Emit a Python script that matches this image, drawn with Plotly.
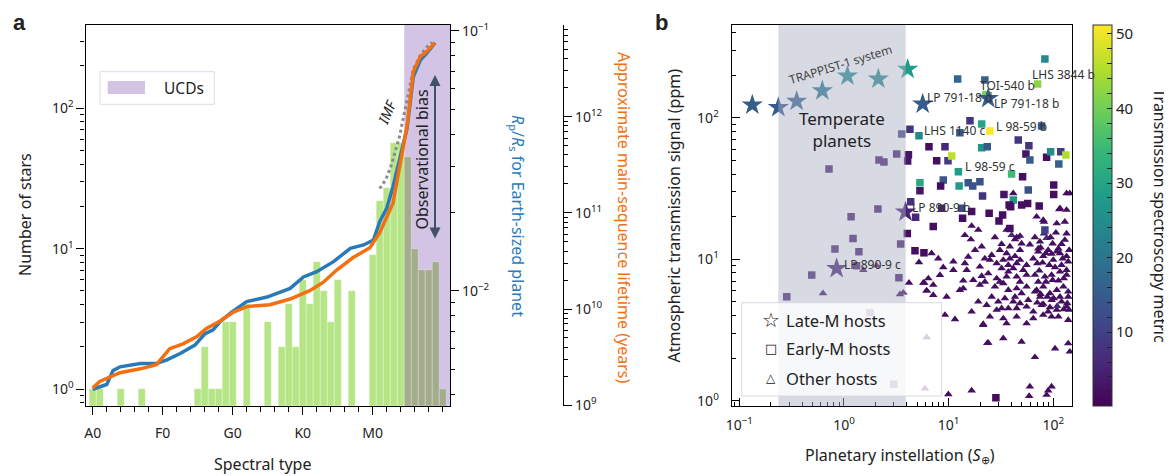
import plotly.graph_objects as go

# The page is drawn with an 8 px body margin, so the paper starts at (8, 8) on screen.
OFF = 8
W, H = 1164, 468
def fx(px): return (px - OFF) / W
def fy(py): return 1 - (py - OFF) / H

FONT = "Noto Sans"

# ---------------- Panel a data ----------------
spectral_ticks = [0, 10, 20, 30, 40]
spectral_labels = ["A0", "F0", "G0", "K0", "M0"]
bar_subtype = [0, 1, 4, 7, 15, 16, 17, 18, 19, 20, 22, 25, 27, 28, 29, 30, 31, 32, 33, 34, 35, 37,
               40, 41, 42, 43, 44, 45, 46, 47, 48, 49, 50]
bar_count = [1, 1, 1, 1, 1, 2, 1, 1, 3, 3, 4, 3, 2, 4, 2, 6, 4, 8, 5, 3, 6, 5,
             9, 22, 27, 57, 57, 45, 10, 7, 7, 8, 1]
ucd_start = 44.5
ucd_end = 51.04

rp_subtype = [0, 2, 2.9, 3.9, 6.8, 9.1, 10.6, 12.5, 14.6, 16.0, 17.2, 18.2, 19.9, 22.0, 24.9,
              26.8, 28.2, 30.1, 32.0, 34.4, 36.8, 38.7, 40.1, 41.0, 42.0, 42.9, 43.9, 44.9,
              45.8, 46.8, 47.7, 48.9]
rp_ratio = [0.00418, 0.00436, 0.00493, 0.00510, 0.00525, 0.00525, 0.00542, 0.00574, 0.00618,
            0.00682, 0.00707, 0.00761, 0.00830, 0.00908, 0.00946, 0.00984, 0.01021, 0.01130,
            0.01184, 0.01294, 0.01456, 0.01500, 0.01567, 0.01842, 0.02075, 0.02512, 0.03276,
            0.04213, 0.06653, 0.07709, 0.08180, 0.08974]

life_subtype = [0, 1.0, 3.9, 6.8, 9.1, 11.0, 12.9, 14.9, 16.2, 18.2, 20.1, 22.0, 25.3, 26.8,
                28.2, 31.0, 32.9, 34.9, 37.2, 39.6, 41.0, 42.9, 43.9, 44.9, 45.8, 46.8, 47.7, 48.9]
life_years = [1.51e9, 1.77e9, 2.18e9, 2.39e9, 2.64e9, 3.87e9, 4.34e9, 5.19e9, 6.24e9, 7.50e9,
              9.30e9, 1.06e10, 1.11e10, 1.18e10, 1.27e10, 1.55e10, 1.89e10, 2.56e10, 3.43e10,
              4.33e10, 6.23e10, 1.27e11, 3.05e11, 7.93e11, 2.94e12, 4.21e12, 4.74e12, 5.89e12]

imf_subtype = [41.0, 41.9, 42.7, 43.8, 44.6, 45.1, 45.8, 46.8, 47.7, 48.5]
imf_count = [26.8, 31.2, 39.9, 62.2, 96.8, 130, 190, 238, 272, 295]

# ---------------- Panel b data ----------------
star_names = ["TRAPPIST-1 h", "TRAPPIST-1 g", "TRAPPIST-1 f", "TRAPPIST-1 e", "TRAPPIST-1 d",
              "TRAPPIST-1 c", "TRAPPIST-1 b", "LP 791-18 d", "LP 791-18 b", "LP 890-9 b", "LP 890-9 c"]
star_inst = [0.133, 0.236, 0.353, 0.621, 1.08, 2.13, 4.06, 5.65, 23.9, 3.87, 0.851]
star_sig = [123, 118, 131, 155, 197, 188, 220, 125, 137, 21.6, 8.62]
star_tsm = [15, 15, 16, 20, 25, 24, 28, 15, 15, 5, 5]

square_inst = [83.2, 12.2, 22.2, 22.7, 70.9, 16.0, 20.7, 24.8, 77.4, 4.27, 3.56, 5.21, 12.8, 6.49,
               9.23, 20.7, 23.4, 46.3, 58.5, 54.8, 3.19, 4.13, 2.16, 2.41, 4.06, 7.69, 9.86, 10.7,
               59.8, 86.4, 94.4, 118, 132, 113, 12.4, 40.0, 50.9, 0.719, 5.32, 5.32, 8.89, 8.39,
               12.6, 15.4, 17.0, 19.9, 21.1, 33.8, 57.7, 41.5, 101, 101, 4.34, 4.84, 8.58, 13.3,
               16.6, 13.6, 24.4, 39.2, 56.9, 73.4, 32.8, 30.3, 7.13, 4.03, 2.11, 1.17, 1.22, 0.82,
               1.39, 3.48, 4.77, 5.81, 0.492, 1.32, 3.35, 0.284, 1.77, 3.0, 28.3, 83.2, 37.9, 49.9, 38.5]
square_sig = [260, 188, 185, 146, 173, 95.2, 90.2, 80.5, 87.3, 82.8, 76.7, 74.6, 78.3, 62.4,
              62.4, 61.4, 62.4, 69.5, 63.4, 55.4, 55.4, 54.8, 50.2, 48.6, 49.4, 49.7, 49.7, 53.6,
              50.2, 52.5, 57.5, 57.5, 54.5, 47.1, 41.5, 40.0, 38.3, 43.4, 34.7, 30.5, 36.3, 32.9,
              32.9, 34.7, 32.9, 35.3, 28.0, 28.7, 30.8, 26.2, 33.4, 28.7, 25.5, 19.8, 22.9, 22.9,
              21.7, 19.5, 21.1, 23.5, 24.8, 23.8, 20.5, 18.6, 17.0, 15.2, 22.6, 20.0, 14.0, 11.8,
              11.3, 12.8, 11.5, 11.1, 7.73, 9.0, 7.40, 5.43, 4.19, 1.31, 1.05, 16.1, 24.2, 24.2, 16.5]
square_tsm = [24, 17, 16, 41, 42, 8, 30, 51, 14, 8, 10, 24, 14, 2,
              6, 27, 14, 8, 8, 3, 4, 3, 4, 4, 3, 2, 9, 46,
              15, 2, 25, 9, 45, 16, 28, 35, 2, 5, 31, 3, 14, 2,
              28, 14, 13, 13, 8, 3, 13, 27, 2, 2, 7, 6, 6, 12,
              2, 2, 2, 2, 2, 2, 2, 2, 2, 2, 4, 4, 4, 5,
              4, 4, 2, 2, 5, 4, 4, 5, 4, 4, 2, 10, 2, 2, 2]

tri_inst = [41.5, 134, 114, 134, 69.3, 81.5, 108, 129, 16.6, 14.3, 16.3, 19.2, 27.7, 40.0, 48.1,
            32.1, 38.5, 44.7, 59.8, 71.9, 86.3, 98.6, 112, 129, 134, 6.87, 7.96, 11.1, 14.3, 17.9,
            20.7, 15.4, 19.9, 22.2, 25.8, 24.8, 32.1, 37.2, 41.5, 48.1, 55.6, 64.4, 71.9, 80.2,
            89.5, 100, 116, 134, 8.26, 5.73, 6.40, 7.13, 13.8, 20.7, 23.9, 28.8, 37.2, 44.7, 55.6,
            66.8, 71.9, 83.2, 96.4, 116, 134, 6.17, 7.13, 9.57, 13.8, 19.9, 22.2, 33.3, 37.2, 44.7,
            55.6, 66.8, 80.2, 92.9, 108, 125, 139, 34.5, 43.1, 57.7, 74.6, 96.4, 116, 139, 32.1,
            37.2, 44.7, 64.4, 77.4, 89.5, 108, 134, 9.23, 11.5, 16.6, 21.4, 33.3, 44.7, 64.4, 80.2,
            96.4, 112, 139, 23.9, 33.3, 49.8, 66.8, 104, 139, 9.93, 16.6, 59.8, 89.5, 96.4,
            58.9, 86.4, 144, 23.4, 21.4, 0.630, 1.53, 2.05, 3.43, 3.69, 4.18, 5.85, 5.21, 6.17,
            6.17, 5.94, 144, 116, 80.2,
            66.8, 74.6, 81.5, 94.2, 106, 120, 142, 75.7, 85.1, 96.4, 108, 123, 139, 70.3, 79.1,
            91.6, 104, 120, 134, 73.5, 85.1, 98.6, 112, 126, 69.3, 75.7, 87.7, 101, 120, 136,
            70.3, 80.2, 92.9, 109, 126, 142, 35.8, 43.1, 49.8, 30.9, 35.8, 43.1, 48.1, 28.8,
            33.3, 38.5, 44.7, 51.6, 35.8, 30.9, 27.7, 48.1, 49.8, 41.5, 48.1, 55.6, 29.8, 25.8,
            17.2, 12.8, 11.1, 8.89, 14.9, 19.2, 23.1, 28.8, 55.6, 35.8, 24.8]
tri_sig = [29.2, 29.2, 22.5, 22.3, 20.0, 18.4, 17.9, 18.4, 17.2, 14.8, 13.8, 16.1, 14.3, 14.8, 14.6,
           12.8, 12.3, 14.3, 12.7, 11.9, 14.1, 12.9, 11.9, 13.7, 15.2, 11.0, 10.1, 9.62, 9.35, 11.6,
           12.3, 10.4, 8.85, 10.1, 10.7, 9.88, 8.63, 9.10, 8.63, 9.88, 9.10, 10.1, 11.3, 10.5,
           11.6, 9.88, 11.0, 10.5, 7.73, 6.82, 7.32, 6.58, 7.05, 7.60, 7.94, 7.32, 8.17, 7.53, 7.74,
           7.74, 6.93, 7.53, 7.74, 8.17, 7.74, 6.0, 5.58, 5.43, 6.22, 6.58, 6.93, 6.76, 6.06, 6.22,
           6.40, 5.90, 6.40, 5.74, 6.06, 6.40, 5.90, 5.30, 5.43, 5.15, 5.43, 5.15, 5.43, 5.43, 4.50,
           4.50, 4.50, 4.26, 4.74, 4.26, 4.38, 4.62, 4.04, 3.76, 4.26, 3.48, 3.82, 3.93, 3.82, 4.04,
           3.93, 3.93, 3.72, 2.57, 2.76, 2.61, 2.03, 2.34, 2.54, 1.11, 1.18, 1.26, 1.18, 1.26,
           1.08, 1.10, 2.22, 2.55, 3.43, 5.74, 8.39, 9.0, 5.65, 5.80, 6.82, 6.82, 9.51, 5.99,
           2.81, 1.22, 29.2, 22.9, 18.9,
           14.3, 13.3, 15.2, 14.3, 15.4, 12.8, 11.6, 12.1, 11.0, 10.9, 11.3, 10.1, 9.62, 9.35, 9.46,
           9.10, 8.77, 9.10, 8.39, 8.30, 6.93, 7.13, 7.05, 7.32, 6.06, 5.68, 5.43, 5.30, 5.01, 4.88,
           4.93, 4.83, 4.57, 4.67, 4.43, 4.38, 16.1, 13.8, 12.9, 11.6, 11.0, 10.5, 11.6, 9.35,
           9.88, 10.1, 9.35, 8.39, 7.53, 6.93, 6.40, 6.93, 5.74, 5.01, 4.88, 4.62, 5.01, 5.43,
           7.13, 6.06, 8.39, 8.77, 8.39, 5.01, 4.74, 4.38, 3.52, 3.52, 3.93]
tri_tsm = [2] * 13 + [6] + [2] * 6 + [7] + [2] * 118 + [5] + [2] * 30 + [6] + [2] * (len(tri_inst) - 170)

temperate_range = [0.236, 3.89]
tsm_range = [0.1, 51.2]

# ---------------- Colours ----------------
GREEN = "#b5e585"
GREEN_UCD = "#a3ad8b"
PURPLE = "#d3c4e5"
BLUE = "#2a7ab9"
ORANGE = "#f36f0f"
MINUS = "\u2212"


def pow_ticks(lo, hi):
    vals = [10.0 ** p for p in range(lo, hi + 1)]
    txt = ["10<sup>%s</sup>" % (str(p) if p >= 0 else MINUS + str(-p)) for p in range(lo, hi + 1)]
    minor = [m * 10.0 ** p for p in range(lo - 1, hi + 1) for m in range(2, 10)]
    return vals, txt, minor


fig = go.Figure()

bar_colors = [GREEN if s < ucd_start else GREEN_UCD for s in bar_subtype]
fig.add_trace(go.Bar(x=bar_subtype, y=bar_count, width=1.0,
                     marker=dict(color=bar_colors, line=dict(color="rgba(255,255,255,0.6)", width=0.5)),
                     xaxis="x", yaxis="y", showlegend=False))
fig.add_trace(go.Scatter(x=imf_subtype, y=imf_count, mode="lines",
                         line=dict(color="#8a8a8a", width=3, dash="dot"),
                         xaxis="x", yaxis="y", showlegend=False))
fig.add_trace(go.Scatter(x=rp_subtype, y=rp_ratio, mode="lines",
                         line=dict(color=BLUE, width=3.5), xaxis="x", yaxis="y2", showlegend=False))
fig.add_trace(go.Scatter(x=life_subtype, y=life_years, mode="lines",
                         line=dict(color=ORANGE, width=3.5), xaxis="x", yaxis="y3", showlegend=False))

fig.add_trace(go.Scatter(x=tri_inst, y=tri_sig, mode="markers", xaxis="x2", yaxis="y4",
                         marker=dict(symbol="triangle-up", size=7.5, color=tri_tsm, coloraxis="coloraxis"),
                         showlegend=False))
fig.add_trace(go.Scatter(x=square_inst, y=square_sig, mode="markers", xaxis="x2", yaxis="y4",
                         marker=dict(symbol="square", size=7.5, color=square_tsm, coloraxis="coloraxis"),
                         showlegend=False))
fig.add_trace(go.Scatter(x=star_inst, y=star_sig, mode="markers", xaxis="x2", yaxis="y4",
                         text=star_names,
                         marker=dict(symbol="star", size=16, color=star_tsm, coloraxis="coloraxis"),
                         showlegend=False))

axis_common = dict(showgrid=False, zeroline=False, showline=True, linecolor="black", linewidth=1.3,
                   tickcolor="black", tickfont=dict(size=14, color="#222"), automargin=False)


def log_axis(lo, hi, ticks, **kw):
    vals, txt, minor = pow_ticks(lo, hi)
    d = dict(axis_common, type="log", tickmode="array", tickvals=vals, ticktext=txt,
             ticks=ticks, ticklen=8, tickwidth=1.2,
             minor=dict(tickmode="array", tickvals=minor, ticks=ticks, ticklen=4, tickwidth=1,
                        tickcolor="black", showgrid=False))
    d.update(kw)
    return d


layout = dict(
    template="none",
    width=W, height=H, autosize=False, margin=dict(l=0, r=0, t=0, b=0, pad=0),
    paper_bgcolor="white", plot_bgcolor="white",
    font=dict(family=FONT, color="#222"),
    showlegend=False, bargap=0,
    xaxis=dict(axis_common, domain=[fx(85.5), fx(450)], anchor="y", range=[-1.03, ucd_end],
               tickmode="array", tickvals=spectral_ticks, ticktext=spectral_labels,
               ticks="outside", ticklen=8, tickwidth=1.2, mirror=True, ticklabelstandoff=6,
               minor=dict(tickmode="linear", tick0=0, dtick=2, ticks="outside", ticklen=5,
                          tickwidth=1, tickcolor="black")),
    yaxis=log_axis(0, 2, "outside", domain=[fy(405.7), fy(25)], anchor="x", range=[-0.119, 2.593]),
    yaxis2=log_axis(-2, -1, "outside", overlaying="y", anchor="x", side="right", range=[-2.442, -0.978]),
    yaxis3=log_axis(9, 12, "outside", overlaying="y", anchor="free", position=fx(563), side="right",
                    range=[8.995, 12.953]),
    xaxis2=log_axis(-1, 2, "inside", domain=[fx(731.7), fx(1072.3)], anchor="y4",
                    range=[-1.073, 2.182], mirror=True, ticklabelstandoff=6),
    yaxis4=log_axis(0, 2, "inside", domain=[fy(406), fy(25)], anchor="x2",
                    range=[-0.037, 2.655], mirror=True, ticklabelstandoff=9),
    coloraxis=dict(colorscale="Viridis", cmin=tsm_range[0], cmax=tsm_range[1],
                   colorbar=dict(x=fx(1093.3), xanchor="left", y=fy(25), yanchor="top",
                                 len=381 / H, lenmode="fraction", thickness=19, thicknessmode="pixels",
                                 outlinewidth=1, outlinecolor="#333", xpad=0, ypad=0,
                                 tickmode="linear", tick0=0, dtick=2, ticklabelstep=5,
                                 ticks="inside", ticklen=5, tickcolor="#222",
                                 tickfont=dict(size=15, color="#222"))),
)
fig.update_layout(**layout)

shapes = [
    dict(type="rect", xref="x", yref="y domain", x0=ucd_start, x1=ucd_end, y0=0, y1=1,
         fillcolor=PURPLE, line=dict(width=0), layer="below"),
    dict(type="rect", xref="x2", yref="y4 domain", x0=temperate_range[0], x1=temperate_range[1],
         y0=0, y1=1, fillcolor="rgba(170,174,196,0.47)", line=dict(width=0), layer="above"),
    dict(type="rect", xref="paper", yref="paper", x0=fx(100), x1=fx(214.3), y0=fy(104.3), y1=fy(71.7),
         fillcolor="white", line=dict(color="#dcdce8", width=1), layer="above"),
    dict(type="rect", xref="paper", yref="paper", x0=fx(107.7), x1=fx(145), y0=fy(94), y1=fy(81),
         fillcolor=PURPLE, line=dict(width=0), layer="above"),
    dict(type="rect", xref="paper", yref="paper", x0=fx(741.7), x1=fx(941.7), y0=fy(396), y1=fy(302.7),
         fillcolor="rgba(255,255,255,0.8)", line=dict(color="#d8d8e2", width=1), layer="above"),
]
fig.update_layout(shapes=shapes)

ann = []
def text(px, py, s, size=14, anchor="center", angle=0, color="#222", family=FONT, vanchor="middle"):
    ann.append(dict(x=fx(px), y=fy(py), xref="paper", yref="paper", text=s, showarrow=False,
                    xanchor=anchor, yanchor=vanchor, textangle=angle,
                    font=dict(size=size, color=color, family=family)))

text(19, 8, "<b>a</b>", size=22, family="Liberation Sans", vanchor="top")
text(661, 8, "<b>b</b>", size=22, family="Liberation Sans", vanchor="top")
text(262, 464, "Spectral type", size=16)
text(25, 215, "Number of stars", size=16, angle=-90)
text(518, 216, "<i>R</i><sub>p</sub>/<i>R</i><sub>s</sub> for Earth-sized planet", size=16, angle=90, color=BLUE)
text(624, 217, "Approximate main-sequence lifetime (years)", size=16, angle=90, color=ORANGE)
text(162, 88, "UCDs", size=15.5, anchor="left")
text(421.5, 160, "Observational bias", size=16, angle=-90)
text(387, 113, "<i>IMF</i>", size=14, angle=-68)
ann.append(dict(x=fx(435), y=fy(75), xref="paper", yref="paper", ax=0, ay=165, axref="pixel", ayref="pixel",
                text="", showarrow=True, arrowhead=2, arrowside="end+start", arrowsize=1.1,
                arrowwidth=2, arrowcolor="#3f5266"))
text(900, 455, "Planetary instellation (<i>S</i><sub>⊕</sub>)", size=16)
text(673, 215.5, "Atmospheric transmission signal (ppm)", size=16, angle=-90)
text(1160, 215.5, "Transmission spectroscopy metric", size=16, angle=90)
text(842, 130, "Temperate<br>planets", size=17)
text(840, 64, "TRAPPIST-1 system", size=12, angle=-17, color="#444")
for px, py, s in [(925, 97, "LP 791-18 d"), (978, 86, "TOI-540 b"), (992, 104, "LP 791-18 b"),
                  (1030, 75, "LHS 3844 b"), (994, 126, "L 98-59 b"), (922, 131, "LHS 1140 c"),
                  (963, 166, "L 98-59 c"), (910, 207, "LP 890-9 b"), (842, 264, "LP 890-9 c")]:
    text(px, py, s, size=12, anchor="left", color="#333")
text(771, 320, "☆", size=20, family="DejaVu Sans")
text(771, 348, "□", size=13, family="DejaVu Sans")
text(771, 378, "△", size=12, family="DejaVu Sans")
text(784, 320, "Late-M hosts", size=16.5, anchor="left")
text(784, 348, "Early-M hosts", size=16.5, anchor="left")
text(784, 378, "Other hosts", size=16.5, anchor="left")

fig.update_layout(annotations=ann)
fig.write_html("out.html")
